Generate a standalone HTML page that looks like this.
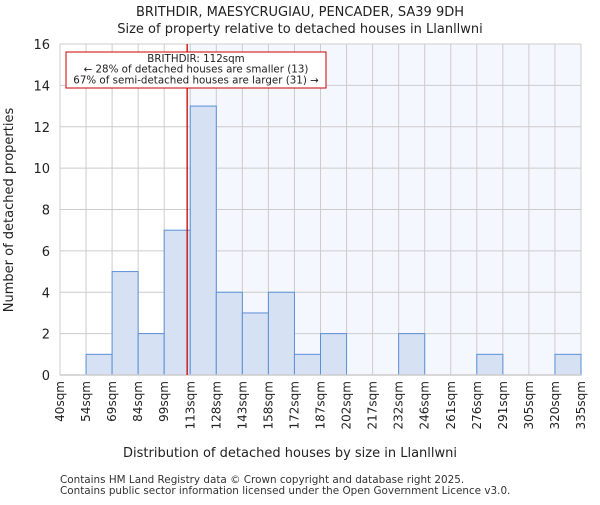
<!DOCTYPE html>
<html><head><meta charset="utf-8"><style>
body{margin:0;background:#fff;font-family:"Liberation Sans","DejaVu Sans",sans-serif}
svg text{font-family:"DejaVu Sans","Liberation Sans",sans-serif}
</style></head><body>
<svg width="600" height="500" xmlns="http://www.w3.org/2000/svg" id="chart">
<text x="300" y="16" text-anchor="middle" font-size="13" fill="#222">BRITHDIR, MAESYCRUGIAU, PENCADER, SA39 9DH</text>
<text x="300" y="33" text-anchor="middle" font-size="13" fill="#222">Size of property relative to detached houses in Llanllwni</text>
<g id="plot"></g>
<text x="290" y="457" text-anchor="middle" font-size="13" fill="#222">Distribution of detached houses by size in Llanllwni</text>
<text transform="translate(13,210) rotate(-90)" text-anchor="middle" font-size="13" fill="#222">Number of detached properties</text>
<text x="60" y="483" font-size="10.4" fill="#333">Contains HM Land Registry data © Crown copyright and database right 2025.</text>
<text x="60" y="494" font-size="10.4" fill="#333">Contains public sector information licensed under the Open Government Licence v3.0.</text>
</svg>
<script>
const binLabels=["40sqm","54sqm","69sqm","84sqm","99sqm","113sqm","128sqm","143sqm","158sqm","172sqm","187sqm","202sqm","217sqm","232sqm","246sqm","261sqm","276sqm","291sqm","305sqm","320sqm","335sqm"];
const counts=[0,1,5,2,7,13,4,3,4,1,2,0,0,2,0,0,1,0,0,1];
const yTicks=[0,2,4,6,8,10,12,14,16];
const subjectSize=112;
const xMin=40,xMax=335;
const L=60,R=581,T=44,B=375,yMax=16;
const NS="http://www.w3.org/2000/svg";
const g=document.getElementById('plot');
const bw=(R-L)/counts.length;
const xb=i=>L+i*bw;
const xv=v=>L+(v-xMin)/(xMax-xMin)*(R-L);
const y=v=>B-v/yMax*(B-T);
function mk(t,a){const e=document.createElementNS(NS,t);for(const k in a)e.setAttribute(k,a[k]);g.appendChild(e);return e;}
const sx=xv(subjectSize);
let e=mk('rect',{x:sx,y:T,width:R-sx,height:B-T,fill:'#f4f7fd'});


for(let i=0;i<=counts.length;i++){e=mk('line',{x1:xb(i),x2:xb(i),y1:T,y2:B,stroke:'#ccc','stroke-width':1});

}
yTicks.forEach(t=>{e=mk('line',{x1:L,x2:R,y1:y(t),y2:y(t),stroke:'#ccc','stroke-width':1});


e=mk('text',{x:L-10,y:y(t)+5,'text-anchor':'end','font-size':13,fill:'#222'});e.textContent=t;

});
counts.forEach((c,i)=>{if(!c)return;e=mk('rect',{x:xb(i),y:y(c),width:bw,height:B-y(c),fill:'#d6e1f3',stroke:'#5b8fd6','stroke-width':1});

});
binLabels.forEach((l,i)=>{const x=xb(i)+4;e=mk('text',{transform:`translate(${x},381) rotate(-90)`,'text-anchor':'end','font-size':12,fill:'#222'});e.textContent=l;

});
e=mk('line',{x1:L,x2:R,y1:B,y2:B,stroke:'#ccc','stroke-width':1.5});


e=mk('line',{x1:sx,x2:sx,y1:T,y2:B,stroke:'#cc0000','stroke-width':1.3});


e=mk('rect',{x:66,y:52,width:260,height:36,fill:'#fff',stroke:'#cc0000','stroke-width':1});


["BRITHDIR: 112sqm","← 28% of detached houses are smaller (13)","67% of semi-detached houses are larger (31) →"].forEach((s,i)=>{e=mk('text',{x:196,y:62+i*10.7,'text-anchor':'middle','font-size':10.3,fill:'#222'});e.textContent=s;

});
</script>
</body></html>
